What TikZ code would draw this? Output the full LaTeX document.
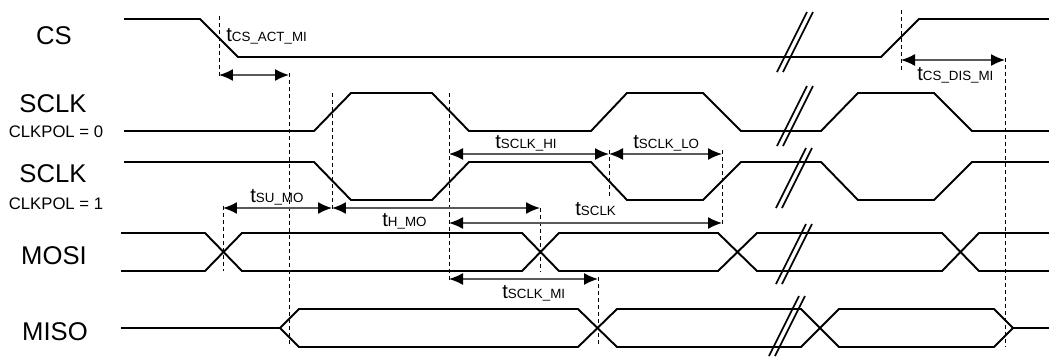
\documentclass[tikz,border=0pt]{standalone}
\usepackage{fontspec}
\setmainfont{Liberation Sans}
\usepackage{tikz}
\usetikzlibrary{arrows.meta}

\newcommand{\tlab}[1]{{\fontsize{11.5}{12}\selectfont t}{\fontsize{7.6}{8}\selectfont #1}}

\begin{document}
\begin{tikzpicture}[x=0.02cm,y=-0.02cm,
  sig/.style={line width=1.1pt},
  guide/.style={line width=0.55pt,dash pattern=on 2.3pt off 1.7pt},
  dim/.style={line width=0.8pt,black!65,{Latex[length=0.28cm,width=0.24cm,color=black]}-{Latex[length=0.28cm,width=0.24cm,color=black]}},
  brk/.style={line width=1pt},
  sname/.style={font=\fontsize{14.6}{16}\selectfont,inner sep=0pt},
  pol/.style={font=\fontsize{9.5}{11}\selectfont,inner sep=0pt},
  tlabel/.style={anchor=base west,inner sep=0pt}]
\useasboundingbox (0,0) rectangle (1049,356);
% signal names
\node[sname] (ncs) at (54,35.5) {CS};
\node[sname] (nck0) at (53,103.5) {SCLK};
\node[pol] (npol0) at (56,131.5) {CLKPOL = 0};
\node[sname] (nck1) at (53,174) {SCLK};
\node[pol] (npol1) at (56,203.5) {CLKPOL = 1};
\node[sname] (nmosi) at (54,256) {MOSI};
\node[sname] (nmiso) at (55,331.5) {MISO};
% waveforms
\draw[sig] (124,19) -- (200,19) -- (238,57) -- (881,57) -- (919,19) -- (1049,19);
\draw[sig] (124,131) -- (314,131) -- (351,93) -- (432,93) -- (469,131) -- (591,131) -- (627,93) -- (703,93) -- (741,131) -- (821,131) -- (858,93) -- (934,93) -- (972,131) -- (1049,131);
\draw[sig] (124,162) -- (314,162) -- (351,200) -- (432,200) -- (469,162) -- (591,162) -- (627,200) -- (703,200) -- (741,162) -- (821,162) -- (858,200) -- (934,200) -- (972,162) -- (1049,162);
\draw[sig] (121,233) -- (205,233) -- (242,271) -- (522,271) -- (559,233) -- (718,233) -- (757,271) -- (942,271) -- (979,233) -- (1049,233);
\draw[sig] (121,271) -- (205,271) -- (242,233) -- (522,233) -- (559,271) -- (718,271) -- (757,233) -- (942,233) -- (979,271) -- (1049,271);
\draw[sig] (121,328) -- (280,328) -- (299,309) -- (578,309) -- (617,347) -- (801,347) -- (839,309) -- (994,309) -- (1013,328) -- (1049,328);
\draw[sig] (280,328) -- (299,347) -- (578,347) -- (617,309) -- (801,309) -- (839,347) -- (994,347) -- (1013,328);
% breaks
\foreach \bx/\by in {777/72,777/146,776/208,776/284,769/356}
  \draw[brk] (\bx,\by) -- ++(30,-60) (\bx+6,\by) -- ++(30,-60);
% guides
\draw[guide] (219,16) -- (219,77);
\draw[guide] (289,73) -- (289,347);
\draw[guide] (332,93) -- (332,210);
\draw[guide] (449,93) -- (449,281);
\draw[guide] (609,150) -- (609,199);
\draw[guide] (722,150) -- (722,226);
\draw[guide] (223,206) -- (223,271);
\draw[guide] (540,208) -- (540,272);
\draw[guide] (598,277) -- (598,347);
\draw[guide] (901,10) -- (901,72);
\draw[guide] (1005,58) -- (1005,347);
% timing arrows
\coordinate (actL) at (219,75); \coordinate (actR) at (289,75);
\coordinate (disL) at (901,60); \coordinate (disR) at (1005,60);
\coordinate (hiL) at (449,154); \coordinate (hiM) at (609,154); \coordinate (loR) at (722,154);
\coordinate (suL) at (223,208); \coordinate (suM) at (332,208); \coordinate (hR) at (540,208);
\coordinate (ckL) at (449,223); \coordinate (ckR) at (722,223);
\coordinate (miL) at (449,279); \coordinate (miR) at (598,279);
\draw[dim] (actL) -- (actR);
\draw[dim] (disL) -- (disR);
\draw[dim] (hiL) -- (hiM);
\draw[dim] (hiM) -- (loR);
\draw[dim] (suL) -- (suM);
\draw[dim] (suM) -- (hR);
\draw[dim] (ckL) -- (ckR);
\draw[dim] (miL) -- (miR);
\node[tlabel] (lact) at (226,41) {\tlab{CS\_ACT\_MI}};
\node[tlabel] (ldis) at (917,80) {\tlab{CS\_DIS\_MI}};
\node[tlabel] (lhi) at (495,148) {\tlab{SCLK\_HI}};
\node[tlabel] (llo) at (633,148) {\tlab{SCLK\_LO}};
\node[tlabel] (lck) at (575,215) {\tlab{SCLK}};
\node[tlabel] (lsu) at (250,202) {\tlab{SU\_MO}};
\node[tlabel] (lh) at (382,226) {\tlab{H\_MO}};
\node[tlabel] (lmi) at (502,298) {\tlab{SCLK\_MI}};
\end{tikzpicture}
\end{document}
